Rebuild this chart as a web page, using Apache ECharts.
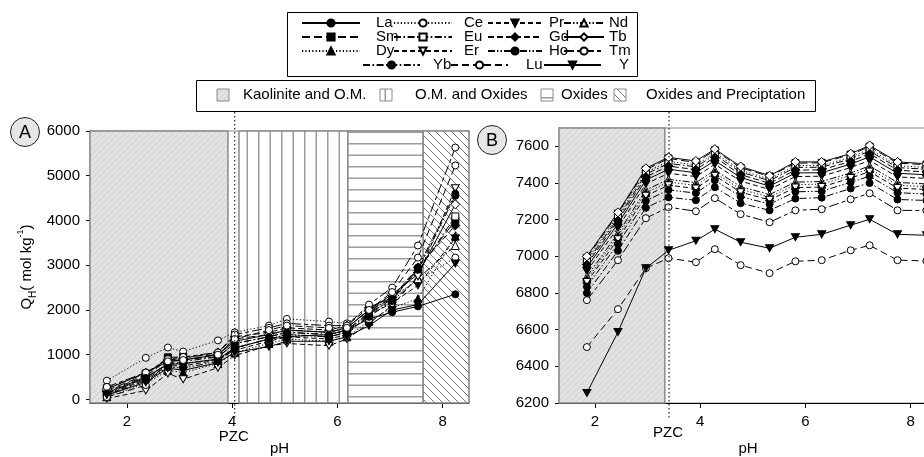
<!DOCTYPE html>
<html>
<head>
<meta charset="utf-8">
<script src="https://cdn.jsdelivr.net/npm/echarts@6/dist/echarts.min.js"></script>
<style>
html, body { margin: 0; padding: 0; background: #fff; }
#chart { width: 924px; height: 457px; }
</style>
</head>
<body>
<div id="chart"></div>
<script>
const FONT = '"Liberation Sans", Arial, Helvetica, sans-serif';

// pH of each equilibrium point
const phA = [1.62, 2.36, 2.78, 3.07, 3.73, 4.05, 4.70, 5.04, 5.84, 6.18, 6.60, 7.04, 7.53, 8.24];
const phB = [1.85, 2.44, 2.97, 3.40, 3.92, 4.28, 4.77, 5.32, 5.81, 6.31, 6.86, 7.22, 7.75, 8.30];

const elements = ['La', 'Ce', 'Pr', 'Nd', 'Sm', 'Eu', 'Gd', 'Tb', 'Dy', 'Er', 'Ho', 'Tm', 'Yb', 'Lu', 'Y'];

// Panel A: Q_H (umol/kg)
const A_La = [150, 500, 780, 800, 900, 1150, 1350, 1400, 1450, 1550, 1800, 1950, 2080, 2350];
const A_Ce = [420, 930, 1160, 1070, 1320, 1500, 1650, 1800, 1740, 1700, 2050, 2300, 2650, 3170];
const A_Pr = [100, 450, 750, 750, 880, 1100, 1300, 1400, 1350, 1450, 1900, 2150, 2550, 3600];
const A_Nd = [120, 480, 800, 800, 900, 1150, 1350, 1450, 1400, 1500, 1950, 2200, 2700, 3440];
const A_Sm = [200, 550, 940, 950, 1000, 1350, 1450, 1550, 1500, 1600, 2000, 2250, 2900, 4000];
const A_Eu = [250, 580, 900, 900, 950, 1250, 1400, 1500, 1450, 1550, 1950, 2300, 2850, 4090];
const A_Gd = [180, 520, 880, 920, 1050, 1400, 1500, 1600, 1550, 1650, 2050, 2280, 2950, 3890];
const A_Tb = [230, 600, 850, 880, 1000, 1300, 1450, 1550, 1500, 1600, 2000, 2350, 2800, 4360];
const A_Dy = [60, 350, 650, 600, 800, 1050, 1250, 1350, 1300, 1400, 1750, 2050, 2250, 3650];
const A_Er = [20, 200, 580, 450, 710, 980, 1200, 1250, 1200, 1350, 1700, 2100, 2750, 4720];
const A_Ho = [80, 420, 720, 700, 850, 1150, 1350, 1450, 1400, 1500, 1850, 2200, 2950, 4600];
const A_Tm = [280, 600, 900, 950, 1050, 1450, 1600, 1700, 1650, 1650, 2120, 2500, 3440, 5630];
const A_Yb = [130, 480, 800, 850, 950, 1250, 1400, 1500, 1450, 1550, 1900, 2250, 2900, 4550];
const A_Lu = [50, 320, 850, 880, 1000, 1350, 1550, 1650, 1600, 1600, 2000, 2400, 3170, 5230];
const A_Y  = [100, 380, 700, 650, 820, 1050, 1180, 1300, 1300, 1400, 1650, 2000, 2120, 3040];

// Panel B
const B_La = [6940, 7178, 7416, 7475, 7456, 7522, 7430, 7383, 7455, 7456, 7503, 7543, 7453, 7445];
const B_Ce = [6980, 7220, 7458, 7518, 7498, 7564, 7470, 7421, 7495, 7495, 7541, 7585, 7494, 7485];
const B_Pr = [6920, 7156, 7395, 7453, 7435, 7502, 7410, 7365, 7435, 7437, 7484, 7523, 7433, 7425];
const B_Nd = [6890, 7125, 7362, 7420, 7402, 7470, 7380, 7337, 7405, 7408, 7455, 7493, 7403, 7395];
const B_Sm = [6992, 7233, 7472, 7534, 7512, 7578, 7483, 7436, 7508, 7510, 7555, 7598, 7508, 7500];
const B_Eu = [6968, 7208, 7448, 7507, 7488, 7553, 7460, 7412, 7485, 7486, 7532, 7574, 7484, 7475];
const B_Gd = [6955, 7195, 7433, 7492, 7473, 7540, 7446, 7398, 7470, 7472, 7518, 7560, 7470, 7460];
const B_Tb = [7000, 7240, 7480, 7540, 7520, 7585, 7490, 7440, 7515, 7515, 7560, 7605, 7515, 7505];
const B_Dy = [6875, 7110, 7347, 7405, 7387, 7456, 7366, 7323, 7391, 7394, 7442, 7478, 7388, 7380];
const B_Er = [6860, 7093, 7330, 7388, 7370, 7440, 7350, 7308, 7375, 7378, 7427, 7462, 7372, 7365];
const B_Ho = [6835, 7068, 7303, 7362, 7345, 7415, 7326, 7285, 7352, 7355, 7404, 7437, 7347, 7340];
const B_Tm = [6761, 6979, 7208, 7268, 7246, 7317, 7230, 7186, 7251, 7257, 7311, 7344, 7251, 7250];
const B_Yb = [6800, 7030, 7265, 7322, 7306, 7377, 7290, 7251, 7315, 7320, 7370, 7400, 7310, 7305];
const B_Lu = [6505, 6712, 6935, 6990, 6968, 7039, 6952, 6908, 6973, 6979, 7033, 7060, 6979, 6975];
const B_Y  = [6255, 6587, 6935, 7033, 7085, 7148, 7077, 7044, 7104, 7120, 7170, 7202, 7120, 7115];

// Adsorption domains along pH
const domainNames = ['Kaolinite and O.M.', 'O.M. and Oxides', 'Oxides', 'Oxides and Preciptation'];
const domainStartA = [1.3, 4.13, 6.2, 7.63];
const domainEndA   = [3.92, 6.2, 7.63, 8.5];
const domainStartB = [1.32];
const domainEndB   = [3.33];

const pzcA = 4.05;
const pzcB = 3.41;

// Tick labels
const xTicks  = [2, 4, 6, 8];
const yTicksA = [0, 1000, 2000, 3000, 4000, 5000, 6000];
const yTicksB = [6200, 6400, 6600, 6800, 7000, 7200, 7400, 7600];

const valuesA = { La: A_La, Ce: A_Ce, Pr: A_Pr, Nd: A_Nd, Sm: A_Sm, Eu: A_Eu, Gd: A_Gd, Tb: A_Tb,
  Dy: A_Dy, Er: A_Er, Ho: A_Ho, Tm: A_Tm, Yb: A_Yb, Lu: A_Lu, Y: A_Y };
const valuesB = { La: B_La, Ce: B_Ce, Pr: B_Pr, Nd: B_Nd, Sm: B_Sm, Eu: B_Eu, Gd: B_Gd, Tb: B_Tb,
  Dy: B_Dy, Er: B_Er, Ho: B_Ho, Tm: B_Tm, Yb: B_Yb, Lu: B_Lu, Y: B_Y };

// ---- line and marker styles ----
const DOWN = 'path://M0,0L10,0L5,8.7Z';
const DOT = [1.2, 2.2], DASH = [5, 3], LDASH = [8, 4], DASHDOT = [7, 2.5, 1.6, 2.5],
      DASHDOTDOT = [7, 2, 1.5, 2, 1.5, 2], LONGSHORT = [10, 3, 4, 3];
const look = {
  La: { dash: 'solid',    symbol: 'circle',   filled: true,  size: 7 },
  Ce: { dash: DOT,        symbol: 'circle',   filled: false, size: 7 },
  Pr: { dash: DASH,       symbol: DOWN,       filled: true,  size: [8, 7] },
  Nd: { dash: DASHDOTDOT, symbol: 'triangle', filled: false, size: 8 },
  Sm: { dash: LDASH,      symbol: 'rect',     filled: true,  size: 7 },
  Eu: { dash: DASHDOT,    symbol: 'rect',     filled: false, size: 7 },
  Gd: { dash: [6, 3],     symbol: 'diamond',  filled: true,  size: 9 },
  Tb: { dash: 'solid',    symbol: 'diamond',  filled: false, size: 9 },
  Dy: { dash: DOT,        symbol: 'triangle', filled: true,  size: 8 },
  Er: { dash: DASH,       symbol: DOWN,       filled: false, size: [8, 7] },
  Ho: { dash: DASHDOTDOT, symbol: 'circle',   filled: true,  size: 7 },
  Tm: { dash: LONGSHORT,  symbol: 'circle',   filled: false, size: 7 },
  Yb: { dash: DASHDOT,    symbol: 'circle',   filled: true,  size: 7 },
  Lu: { dash: [7, 4],     symbol: 'circle',   filled: false, size: 7 },
  Y:  { dash: 'solid',    symbol: DOWN,       filled: true,  size: [8, 7] }
};

// ---- fill patterns for the domains ----
function makePattern(w, h, draw) {
  const c = document.createElement('canvas');
  c.width = w; c.height = h;
  draw(c.getContext('2d'), w, h);
  return { image: c, repeat: 'repeat' };
}
const patKaolinite = makePattern(6, 6, (ctx, w, h) => {
  ctx.fillStyle = '#e2e2e2'; ctx.fillRect(0, 0, w, h);
  ctx.strokeStyle = '#d0d0d0'; ctx.lineWidth = 1;
  ctx.beginPath();
  ctx.moveTo(-1, h + 1); ctx.lineTo(w + 1, -1);
  ctx.moveTo(-1, 1); ctx.lineTo(1, -1);
  ctx.moveTo(w - 1, h + 1); ctx.lineTo(w + 1, h - 1);
  ctx.stroke();
});
const patVertical = makePattern(23, 4, (ctx, w, h) => {
  ctx.fillStyle = '#fff'; ctx.fillRect(0, 0, w, h);
  ctx.fillStyle = '#9c9c9c'; ctx.fillRect(5, 0, 1.5, h); ctx.fillRect(16.5, 0, 1.5, h);
});
const patHorizontal = makePattern(4, 23, (ctx, w, h) => {
  ctx.fillStyle = '#fff'; ctx.fillRect(0, 0, w, h);
  ctx.fillStyle = '#9c9c9c'; ctx.fillRect(0, 5, w, 1.5); ctx.fillRect(0, 16.5, w, 1.5);
});
const patDiagonal = makePattern(8, 8, (ctx, w, h) => {
  ctx.fillStyle = '#fff'; ctx.fillRect(0, 0, w, h);
  ctx.strokeStyle = '#555'; ctx.lineWidth = 0.8;
  ctx.beginPath();
  ctx.moveTo(-1, -1); ctx.lineTo(w + 1, h + 1);
  ctx.moveTo(w - 1, -1); ctx.lineTo(w + 1, 1);
  ctx.moveTo(-1, h - 1); ctx.lineTo(1, h + 1);
  ctx.stroke();
});
const domainFills = [patKaolinite, patVertical, patHorizontal, patDiagonal];

const yRangeA = [-80, 6000];
const yRangeB = [6200, 7700];

function domainSeries(g, starts, ends, yr) {
  return {
    type: 'custom', xAxisIndex: g, yAxisIndex: g, silent: true, z: 1,
    data: starts.map((s, i) => [s, ends[i], i]),
    encode: { x: [0, 1] },
    renderItem(params, api) {
      const i = api.value(2);
      const p0 = api.coord([api.value(0), yr[1]]);
      const p1 = api.coord([api.value(1), yr[0]]);
      return {
        type: 'rect',
        shape: { x: p0[0], y: p0[1], width: p1[0] - p0[0], height: p1[1] - p0[1] },
        style: { fill: domainFills[i], stroke: '#8a8a8a', lineWidth: 1.5 }
      };
    }
  };
}

function lineSeries(name, g, xs, ys) {
  const s = look[name];
  return {
    type: 'line', name, xAxisIndex: g, yAxisIndex: g, z: 3,
    data: xs.map((x, i) => [x, ys[i]]),
    symbol: s.symbol, symbolSize: s.size, showSymbol: true, showAllSymbol: true,
    lineStyle: { color: '#000', width: 1, type: s.dash },
    itemStyle: { color: s.filled ? '#000' : '#fff', borderColor: '#000', borderWidth: 1 },
    emphasis: { disabled: true }
  };
}

const plain = v => String(v);

function xAxis(g, min, max) {
  return {
    type: 'value', gridIndex: g, min, max,
    name: 'pH', nameLocation: 'middle', nameGap: 38,
    nameTextStyle: { fontSize: 15, color: '#000', fontFamily: FONT },
    axisLine: { show: true, onZero: false, lineStyle: { color: '#000', width: 1 } },
    axisTick: { show: true, length: 5, customValues: xTicks, lineStyle: { color: '#000' } },
    axisLabel: { customValues: xTicks, formatter: plain, fontSize: 15, color: '#000', margin: 11, fontFamily: FONT },
    splitLine: { show: false }
  };
}
function yAxis(g, yr, ticks, extra) {
  return Object.assign({
    type: 'value', gridIndex: g, min: yr[0], max: yr[1],
    axisLine: { show: true, onZero: false, lineStyle: { color: '#000', width: 1 } },
    axisTick: { show: true, length: 4, customValues: ticks, lineStyle: { color: '#000' } },
    axisLabel: { customValues: ticks, formatter: plain, fontSize: 15, color: '#000', margin: 10, fontFamily: FONT },
    splitLine: { show: false }
  }, extra || {});
}

// ---- legend of the elements: one legend per entry so the columns line up ----
const legendRows = [['La', 'Ce', 'Pr', 'Nd'], ['Sm', 'Eu', 'Gd', 'Tb'], ['Dy', 'Er', 'Ho', 'Tm'], ['Yb', 'Lu', 'Y']];
const rowCenters = [23, 37, 51, 65];
const colLeft  = [301, 393, 487, 563];
const colWidth = [58, 58, 54, 40];
const colPad   = [11, 7, 2, 0];
const lastRowLeft  = [362, 450, 543];
const lastRowWidth = [57, 57, 57];
const lastRowPad   = [8, 13, 13];
const legends = [];
legendRows.forEach((row, r) => {
  row.forEach((name, c) => {
    const last = r === 3;
    legends.push({
      data: [name], orient: 'horizontal', selectedMode: false, padding: 0,
      left: last ? lastRowLeft[c] : colLeft[c], top: rowCenters[r] - 8,
      itemWidth: last ? lastRowWidth[c] : colWidth[c], itemHeight: 9,
      textStyle: { fontSize: 15, lineHeight: 16, color: '#000', fontFamily: FONT,
                   padding: [0, 0, 0, last ? lastRowPad[c] : colPad[c]] }
    });
  });
});

const series = [
  domainSeries(0, domainStartA, domainEndA, yRangeA),
  domainSeries(1, domainStartB, domainEndB, yRangeB)
];
elements.forEach(el => series.push(lineSeries(el, 0, phA, valuesA[el])));
elements.forEach(el => series.push(lineSeries(el, 1, phB, valuesB[el])));

const option = {
  backgroundColor: '#fff',
  animation: false,
  textStyle: { fontFamily: FONT },
  grid: [
    { left: 90, top: 131, width: 379, height: 272, outerBoundsMode: 'none', containLabel: false,
      show: true, borderColor: '#8a8a8a', borderWidth: 1, backgroundColor: 'transparent' },
    { left: 559, top: 128, width: 378, height: 275, outerBoundsMode: 'none', containLabel: false,
      show: true, borderColor: '#8a8a8a', borderWidth: 1, backgroundColor: 'transparent' }
  ],
  xAxis: [xAxis(0, 1.3, 8.5), xAxis(1, 1.32, 8.5)],
  yAxis: [
    yAxis(0, yRangeA, yTicksA, {
      name: '{n|Q}{sub|H}{n|( mol kg}{sup|-1}{n|)}',
      nameLocation: 'middle', nameGap: 52, nameRotate: 90,
      nameTextStyle: {
        color: '#000', fontFamily: FONT,
        rich: {
          n: { fontSize: 15, lineHeight: 22, fontFamily: FONT, color: '#000' },
          sub: { fontSize: 10, lineHeight: 10, verticalAlign: 'bottom', fontFamily: FONT, color: '#000' },
          sup: { fontSize: 9, lineHeight: 9, verticalAlign: 'top', fontFamily: FONT, color: '#000' }
        }
      }
    }),
    yAxis(1, yRangeB, yTicksB)
  ],
  legend: legends,
  series
};

const chart = echarts.init(document.getElementById('chart'), null, { renderer: 'canvas', width: 924, height: 457 });
chart.setOption(option);

// ---- annotations: legend frames, domain key, PZC markers, panel tags ----
const pzcPxA = chart.convertToPixel({ xAxisIndex: 0 }, pzcA);
const pzcPxB = chart.convertToPixel({ xAxisIndex: 1 }, pzcB);

const keyIconX = [217, 380, 541, 614];
const keyTextX = [243, 415, 561, 646];

const graphics = [
  { type: 'rect', shape: { x: 287.5, y: 12.5, width: 350, height: 64 }, style: { fill: '#fff', stroke: '#000', lineWidth: 1 }, z: -1, silent: true },
  { type: 'rect', shape: { x: 196.5, y: 80.5, width: 619, height: 31 }, style: { fill: '#fff', stroke: '#000', lineWidth: 1 }, z: -1, silent: true }
];
domainNames.forEach((nm, i) => {
  graphics.push({ type: 'rect', shape: { x: keyIconX[i], y: 89, width: 12, height: 12 },
    style: { fill: domainFills[i], stroke: '#8a8a8a', lineWidth: 1 }, silent: true });
  graphics.push({ type: 'text', x: keyTextX[i], y: 95,
    style: { text: nm, fontSize: 15, fontFamily: FONT, fill: '#000', align: 'left', verticalAlign: 'middle' }, silent: true });
});
[[pzcPxA, 437], [pzcPxB, 433]].forEach(([px, ty]) => {
  graphics.push({ type: 'line', shape: { x1: px, y1: 112, x2: px, y2: 420 },
    style: { stroke: '#000', lineWidth: 1, lineDash: [1.5, 2.5] }, z: 10, silent: true });
  graphics.push({ type: 'text', x: px - 1, y: ty,
    style: { text: 'PZC', fontSize: 15, fontFamily: FONT, fill: '#000', align: 'center', verticalAlign: 'middle' }, silent: true });
});
[['A', 25, 132], ['B', 492, 140]].forEach(([t, cx, cy]) => {
  graphics.push({ type: 'circle', shape: { cx, cy, r: 14.5 },
    style: { fill: '#e6e6e6', stroke: '#222', lineWidth: 1 }, silent: true });
  graphics.push({ type: 'text', x: cx, y: cy + 1,
    style: { text: t, fontSize: 18, fontFamily: FONT, fill: '#000', align: 'center', verticalAlign: 'middle' }, silent: true });
});

chart.setOption({ graphic: { elements: graphics } });
</script>
</body>
</html>
